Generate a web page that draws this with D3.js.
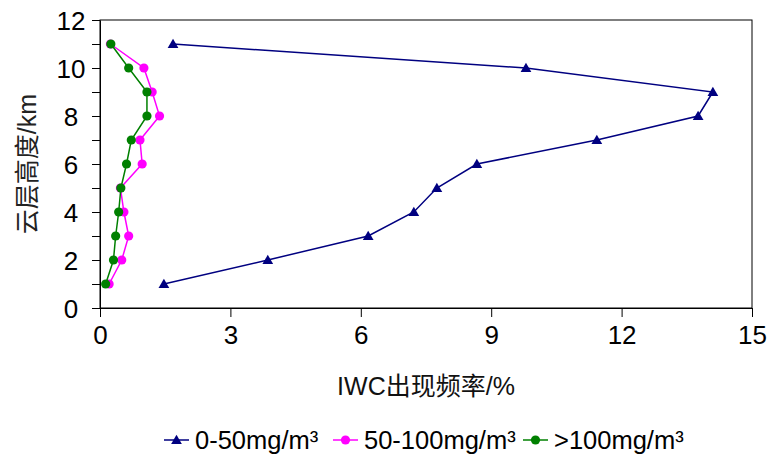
<!DOCTYPE html>
<html><head><meta charset="utf-8">
<script src="https://cdn.jsdelivr.net/npm/d3@7"></script>
<style>
body{margin:0;background:#fff;}
svg{display:block;}
</style></head>
<body><svg id="c" width="770" height="454"></svg>
<script>
const heights = [1,2,3,4,5,6,7,8,9,10,11];
const seriesNames = ["0-50mg/m³","50-100mg/m³",">100mg/m³"];
const low  = [1.47,3.86,6.17,7.22,7.75,8.67,11.43,13.76,14.10,9.80,1.68];
const mid  = [0.21,0.50,0.66,0.55,0.47,0.97,0.92,1.37,1.20,1.01,0.24];
const high = [0.13,0.31,0.36,0.43,0.48,0.61,0.72,1.08,1.08,0.66,0.25];
const xTicks = [0,3,6,9,12,15];
const yTicks = [0,1,2,3,4,5,6,7,8,9,10,11,12];
const yLabels = [0,2,4,6,8,10,12];
const colors = ["#000080","#FF00FF","#008000"];
const symbols = ["triangle","circle","circle"];

const svg = d3.select("#c");
const L=100,R=752,T=20,B=308;
const x = d3.scaleLinear().domain([0,15]).range([L,R]);
const y = d3.scaleLinear().domain([0,12]).range([B,T]);
const font = "'Liberation Sans', Arial, sans-serif";
const cjk = "'Liberation Sans', 'Noto Sans CJK SC', sans-serif";

// frame
svg.append("rect").attr("x",L).attr("y",T).attr("width",R-L).attr("height",B-T)
  .attr("fill","none").attr("stroke","#000").attr("stroke-width",1);

// x axis ticks
const xa = svg.append("g").attr("transform",`translate(0,${B})`)
  .call(d3.axisBottom(x).tickValues(xTicks).tickSize(9).tickSizeOuter(0).tickFormat(d3.format("d")));
xa.select(".domain").attr("stroke","#000");
xa.selectAll(".tick line").attr("stroke","#000");
xa.selectAll(".tick text").attr("font-family",font).attr("font-size",26).attr("fill","#000").attr("y",27).attr("dy","0.35em");

// y axis ticks
const ya = svg.append("g").attr("transform",`translate(${L},0)`)
  .call(d3.axisLeft(y).tickValues(yTicks).tickSize(8).tickSizeOuter(0)
    .tickFormat(d=>yLabels.includes(d)?String(d):""));
ya.select(".domain").attr("stroke","#000");
ya.selectAll(".tick line").attr("stroke","#000");
ya.selectAll(".tick text").attr("font-family",font).attr("font-size",26).attr("fill","#000")
  .attr("text-anchor","middle").attr("x",-29).attr("dy","0.35em");

// titles
svg.append("text").attr("x",426).attr("y",386).attr("text-anchor","middle").attr("dy","0.35em")
  .attr("font-family",cjk).attr("font-size",25).attr("fill","#111")
  .text("IWC出现频率/%");
svg.append("text").attr("transform",`translate(27,${(T+B)/2}) rotate(-90)`).attr("text-anchor","middle").attr("dy","0.35em")
  .attr("font-family",cjk).attr("font-size",25).attr("fill","#222")
  .text("云层高度/km");

const data = [low,mid,high];
const line = d3.line().x(d=>x(d[0])).y(d=>y(d[1]));
const triSym = d3.symbol().type(d3.symbolTriangle).size(50);

function drawMarker(g, type, col, cx, cy){
  if(type==="triangle"){
    g.append("path").attr("d",triSym()).attr("transform",`translate(${cx},${cy+1})`).attr("fill",col);
  } else {
    g.append("circle").attr("cx",cx).attr("cy",cy).attr("r",4.6).attr("fill",col);
  }
}

[0,1,2].forEach(i=>{
  const pts = heights.map((h,j)=>[data[i][j],h]);
  const g = svg.append("g");
  g.append("path").attr("d",line(pts)).attr("fill","none").attr("stroke",colors[i]).attr("stroke-width",1.5);
  pts.forEach(p=>drawMarker(g,symbols[i],colors[i],x(p[0]),y(p[1])));
});

// legend
const lg = svg.append("g");
const ly = 440;
const starts = [164,333,523];
seriesNames.forEach((n,i)=>{
  const sx = starts[i];
  lg.append("line").attr("x1",sx).attr("x2",sx+25).attr("y1",ly).attr("y2",ly).attr("stroke",colors[i]).attr("stroke-width",1.5);
  drawMarker(lg,symbols[i],colors[i],sx+12.5,ly);
  lg.append("text").attr("x",sx+31).attr("y",ly).attr("dy","0.35em")
    .attr("font-family",font).attr("font-size",25.5).attr("fill","#000").text(n);
});
</script></body></html>
